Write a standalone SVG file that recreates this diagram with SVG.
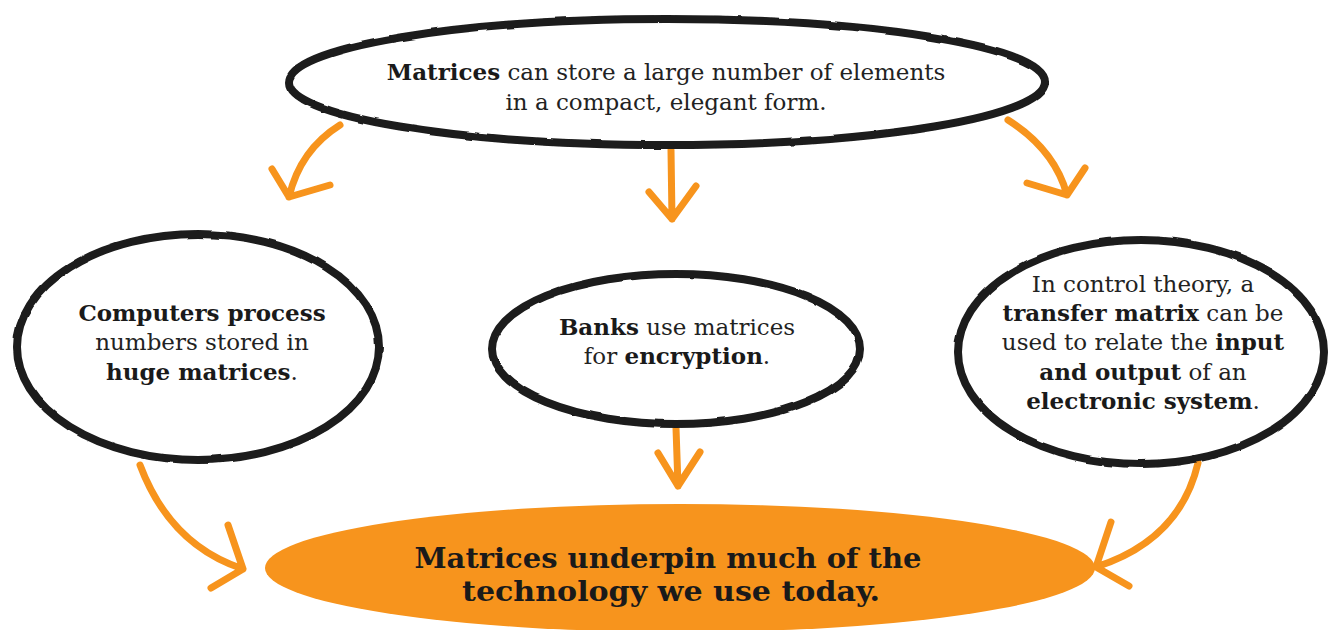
<svg xmlns="http://www.w3.org/2000/svg" width="1328" height="630" viewBox="0 0 1328 630">
<defs>
<style>
.bub{fill:#fff;stroke:#1b1b1b;stroke-width:8;filter:url(#rough)}
.arr{fill:none;stroke:#F7941D;stroke-width:7;stroke-linecap:round;stroke-linejoin:round}
.t{font-family:"DejaVu Serif","Liberation Serif",serif;font-size:23px;fill:#222;text-anchor:middle}
.b{font-weight:bold;fill:#1a1a1a}
.big{font-family:"DejaVu Serif Condensed","DejaVu Serif",serif;font-stretch:condensed;font-weight:bold;font-size:28px;fill:#1a1a1a;text-anchor:middle}
</style>
<filter id="rough" x="-5%" y="-5%" width="110%" height="110%">
<feTurbulence type="fractalNoise" baseFrequency="0.04" numOctaves="2" seed="3"/>
<feDisplacementMap in="SourceGraphic" scale="2.5" xChannelSelector="R" yChannelSelector="G"/>
</filter>
</defs>
<rect width="1328" height="630" fill="#fff"/>
<g id="connectors">
<path class="arr" d="M340,125 Q300,150 289,197 M272,169 L289,197 L330,185"/>
<path class="arr" d="M671,150 L672,219 M649,192 L672,219 L696,186"/>
<path class="arr" d="M1008,120 Q1055,150 1067,195 M1027,183 L1067,195 L1085,168"/>
<path class="arr" d="M140,465 Q170,545 243,569 M228,525 L243,569 L211,588"/>
<path class="arr" d="M676,428 L678,486 M658,453 L678,486 L700,452"/>
<path class="arr" d="M1198,463 Q1180,540 1096,567 M1111,522 L1096,567 L1129,586"/>
</g>
<g id="top">
<ellipse class="bub" cx="667" cy="82" rx="378" ry="63"/>
<text class="t" x="666" y="80"><tspan class="b">Matrices</tspan> can store a large number of elements</text>
<text class="t" x="666" y="110">in a compact, elegant form.</text>
</g>
<g id="left">
<ellipse class="bub" cx="198" cy="347" rx="181" ry="113"/>
<text class="t b" x="202" y="321">Computers process</text>
<text class="t" x="202" y="350">numbers stored in</text>
<text class="t" x="202" y="380"><tspan class="b">huge matrices</tspan>.</text>
</g>
<g id="middle">
<ellipse class="bub" cx="676" cy="349" rx="184" ry="75"/>
<text class="t" x="677" y="335"><tspan class="b">Banks</tspan> use matrices</text>
<text class="t" x="677" y="364">for <tspan class="b">encryption</tspan>.</text>
</g>
<g id="right">
<ellipse class="bub" cx="1141" cy="352" rx="183" ry="112"/>
<text class="t" x="1143" y="292">In control theory, a</text>
<text class="t" x="1143" y="321"><tspan class="b">transfer matrix</tspan> can be</text>
<text class="t" x="1143" y="350">used to relate the <tspan class="b">input</tspan></text>
<text class="t" x="1143" y="380"><tspan class="b">and output</tspan> of an</text>
<text class="t" x="1143" y="409"><tspan class="b">electronic system</tspan>.</text>
</g>
<g id="bottom">
<ellipse cx="680" cy="568" rx="415" ry="64" fill="#F7941D"/>
<text class="big" x="668" y="568" textLength="507" lengthAdjust="spacingAndGlyphs">Matrices underpin much of the</text>
<text class="big" x="671" y="601" textLength="418" lengthAdjust="spacingAndGlyphs">technology we use today.</text>
</g>
</svg>
